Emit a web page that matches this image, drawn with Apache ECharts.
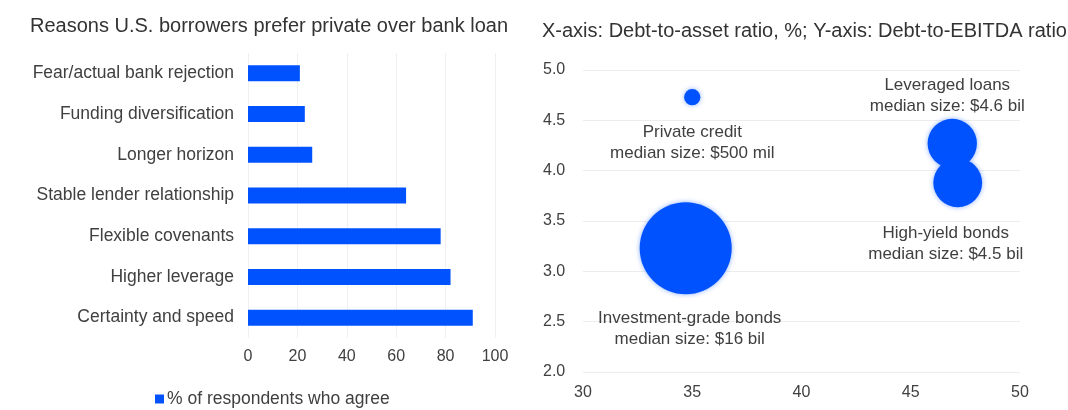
<!DOCTYPE html>
<html>
<head>
<meta charset="utf-8">
<script src="https://cdn.jsdelivr.net/npm/echarts@6/dist/echarts.min.js"></script>
<style>
  html, body { margin: 0; padding: 0; background: #fff; }
  #chart { width: 1068px; height: 410px; }
</style>
</head>
<body>
<div id="chart"></div>
<script>
// Survey: reasons borrowers prefer private credit (top to bottom)
const reasons = [
  'Fear/actual bank rejection',
  'Funding diversification',
  'Longer horizon',
  'Stable lender relationship',
  'Flexible covenants',
  'Higher leverage',
  'Certainty and speed'
];
const agreePct = [21, 23, 26, 64, 78, 82, 91];
const barTicks = [0, 20, 40, 60, 80, 100];

// Debt markets: debt-to-asset (%) vs debt-to-EBITDA, bubble = median deal size ($ bil)
const markets = ['Private credit', 'Leveraged loans', 'High-yield bonds', 'Investment-grade bonds'];
const debtToAsset = [35, 46.9, 47.15, 34.7];
const debtToEbitda = [4.73, 4.27, 3.88, 3.23];
const medianSizeBil = [0.5, 4.6, 4.5, 16];
const medianSizeText = ['$500 mil', '$4.6 bil', '$4.5 bil', '$16 bil'];

const BLUE = '#0052ff';
const TEXT = '#404040';
const FONT = '"Liberation Sans", Arial, sans-serif';

// label placement for each bubble
const labelPlace = [
  { position: 'bottom', distance: 17, offset: [0, 0] },
  { position: 'top', distance: 2, offset: [-5, 0] },
  { position: 'bottom', distance: 16, offset: [-12, 0] },
  { position: 'bottom', distance: 14, offset: [4, 0] }
];

const bubbleData = markets.map((m, i) => ({
  name: m,
  value: [debtToAsset[i], debtToEbitda[i], medianSizeBil[i]],
  label: {
    show: true,
    position: labelPlace[i].position,
    distance: labelPlace[i].distance,
    offset: labelPlace[i].offset,
    formatter: m + '\nmedian size: ' + medianSizeText[i],
    color: TEXT,
    fontSize: 17,
    fontFamily: FONT,
    lineHeight: 21,
    align: 'center'
  }
}));

const chart = echarts.init(document.getElementById('chart'), null, { renderer: 'canvas' });

chart.setOption({
  animation: false,
  backgroundColor: '#fff',
  textStyle: { fontFamily: FONT },
  title: [
    {
      text: 'Reasons U.S. borrowers prefer private over bank loan',
      left: 25, top: 11,
      textStyle: { fontSize: 20, fontWeight: 'normal', color: '#333', fontFamily: FONT }
    },
    {
      text: 'X-axis: Debt-to-asset ratio, %; Y-axis: Debt-to-EBITDA ratio',
      left: 537, top: 16,
      textStyle: { fontSize: 20, fontWeight: 'normal', color: '#333', fontFamily: FONT }
    }
  ],
  legend: {
    data: ['% of respondents who agree'],
    left: 150, top: 385,
    itemWidth: 9, itemHeight: 9, itemGap: 4,
    icon: 'rect',
    textStyle: { fontSize: 17.5, color: TEXT, fontFamily: FONT, padding: [0, 0, 0, -2] }
  },
  grid: [
    { left: 248, top: 53, width: 247, height: 285 },
    { left: 583, top: 70, width: 437, height: 302 }
  ],
  xAxis: [
    {
      gridIndex: 0, type: 'value', min: barTicks[0], max: barTicks[barTicks.length - 1], interval: 20,
      axisLine: { show: false }, axisTick: { show: false },
      splitLine: { show: true, lineStyle: { color: '#f0f0f0' } },
      axisLabel: { color: TEXT, fontSize: 16, margin: 11, fontFamily: FONT }
    },
    {
      gridIndex: 1, type: 'value', min: 30, max: 50, interval: 5,
      axisLine: { show: false }, axisTick: { show: false },
      splitLine: { show: false },
      axisLabel: { color: TEXT, fontSize: 16, margin: 13, fontFamily: FONT }
    }
  ],
  yAxis: [
    {
      gridIndex: 0, type: 'category', data: reasons, inverse: true,
      axisLine: { show: false }, axisTick: { show: false },
      axisLabel: { color: TEXT, fontSize: 17.5, margin: 14, fontFamily: FONT }
    },
    {
      gridIndex: 1, type: 'value', min: 2, max: 5, interval: 0.5,
      axisLine: { show: false }, axisTick: { show: false },
      splitLine: { show: true, lineStyle: { color: '#ececec' } },
      axisLabel: {
        color: TEXT, fontSize: 16, margin: 16, fontFamily: FONT, align: 'left',
        formatter: v => v.toFixed(1)
      },
      offset: 24
    }
  ],
  series: [
    {
      name: '% of respondents who agree',
      type: 'bar',
      xAxisIndex: 0, yAxisIndex: 0,
      data: agreePct,
      barWidth: 16,
      itemStyle: { color: BLUE }
    },
    {
      name: 'Median deal size',
      type: 'scatter',
      xAxisIndex: 1, yAxisIndex: 1,
      data: bubbleData,
      symbolSize: v => Math.sqrt(v[2]) * 23,
      itemStyle: {
        color: BLUE, opacity: 1,
        shadowBlur: 5, shadowColor: 'rgba(0, 82, 255, 0.45)'
      }
    }
  ]
});
</script>
</body>
</html>
